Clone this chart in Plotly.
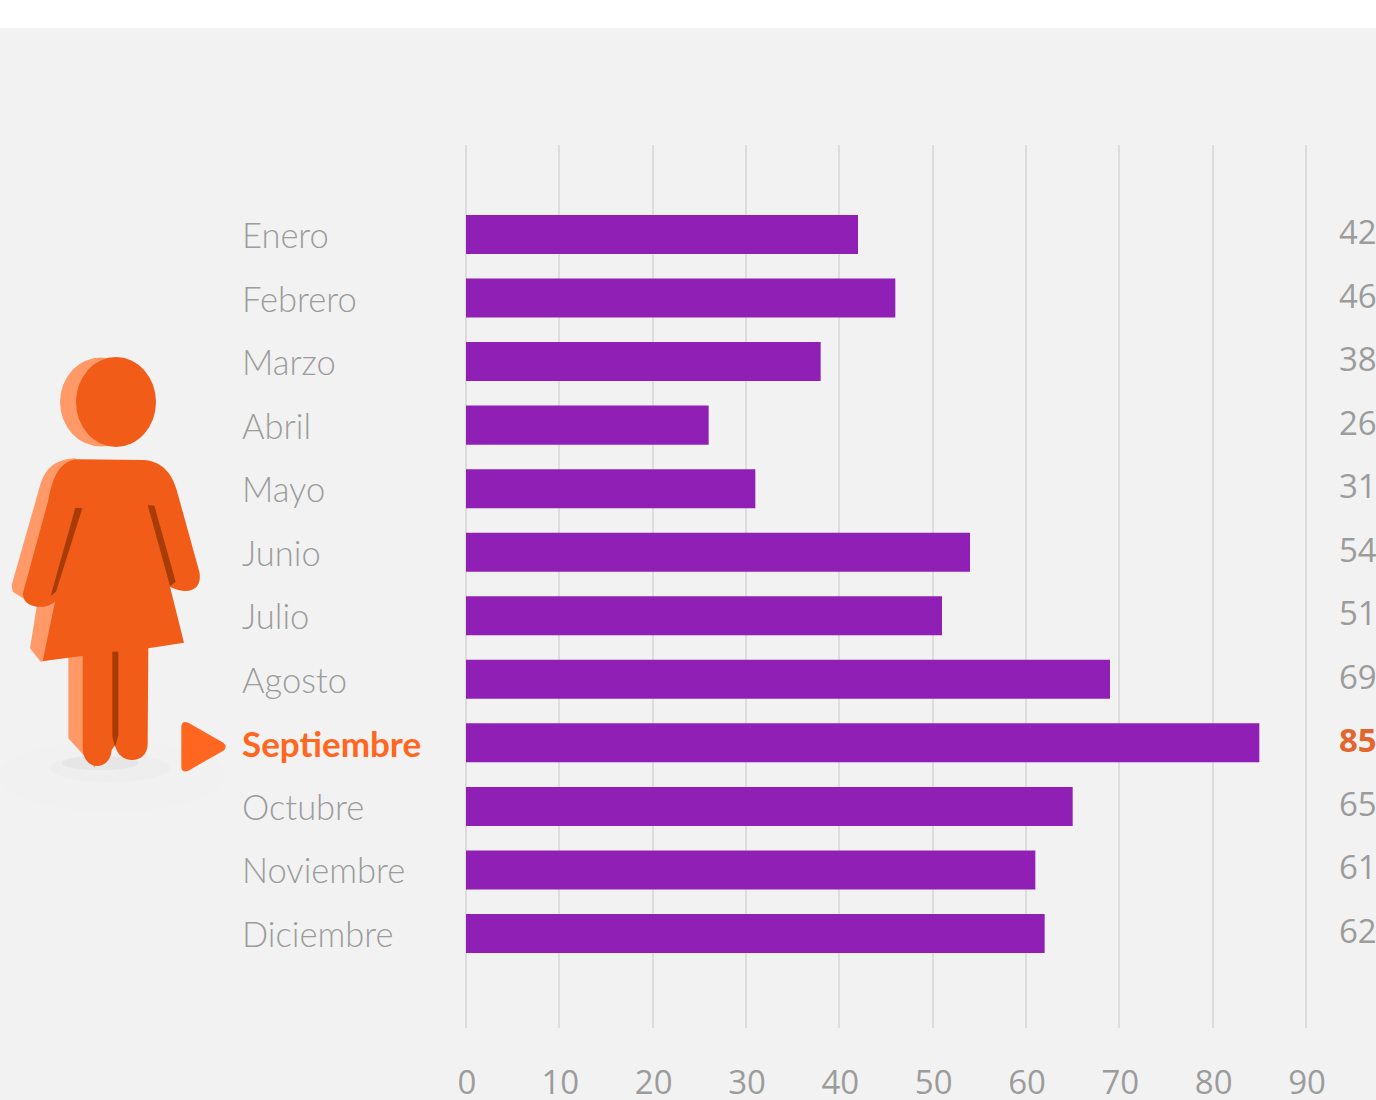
import plotly.graph_objects as go

months = ["Enero", "Febrero", "Marzo", "Abril", "Mayo", "Junio", "Julio", "Agosto",
          "Septiembre", "Octubre", "Noviembre", "Diciembre"]
values = [42, 46, 38, 26, 31, 54, 51, 69, 85, 65, 61, 62]
x_ticks = [0, 10, 20, 30, 40, 50, 60, 70, 80, 90]
highlight = "Septiembre"

W, H = 1376, 1100
L, R, T, B = 463, 1309, 145, 1028
GREY = "#9c9c9c"
ORANGE = "#ff6720"
BODY = "#f25c19"
SIDE = "#ff9a68"
DARK = "#a83c08"


def px(x, y):
    return (x - L) / (R - L), (B - y) / (B - T)


def zpath(segments):
    """Icon outline given in 3x-zoom image pixels of the decoration."""
    out = []
    for seg in segments:
        cmd, pts = seg[0], seg[1:]
        if cmd == "Z":
            out.append("Z")
            continue
        coords = []
        for zx, zy in pts:
            a, b = px(zx / 3, zy / 3 + 340)
            coords.append(f"{a:.5f},{b:.5f}")
        out.append(cmd + " ".join(coords))
    return " ".join(out)


def path_shape(segments, color):
    return dict(type="path", xref="paper", yref="paper", path=zpath(segments),
                fillcolor=color, line=dict(width=0), layer="below")


def ellipse(cx, cy, rx, ry, color):
    x0, y0 = px(cx - rx, cy + ry)
    x1, y1 = px(cx + rx, cy - ry)
    return dict(type="circle", xref="paper", yref="paper", x0=x0, y0=y0, x1=x1, y1=y1,
                fillcolor=color, line=dict(width=0), layer="below")


top0, top1 = px(-5, 28), px(W + 5, -5)
shapes = [
    dict(type="rect", xref="paper", yref="paper", x0=top0[0], y0=top0[1], x1=top1[0], y1=top1[1],
         fillcolor="#ffffff", line=dict(width=0), layer="below"),
    # soft floor shadow
    ellipse(112, 776, 112, 36, "#f1f1f1"),
    ellipse(110, 768, 60, 14, "#eeeeee"),
    ellipse(100, 763, 38, 7, "#e6e6e6"),
    # head
    ellipse(101, 402, 41, 44.5, SIDE),
    ellipse(116, 402, 40, 45, BODY),
    # extruded side of the body
    path_shape([
        ("M", (225, 355)), ("C", (170, 358), (140, 380), (122, 430)),
        ("L", (35, 735)), ("L", (38, 755)), ("L", (110, 800)), ("L", (90, 925)), ("L", (122, 965)),
        ("L", (205, 950)), ("L", (205, 1195)), ("L", (285, 1283)), ("L", (320, 1000)), ("L", (300, 400)), ("Z",),
    ], SIDE),
    # front of the body
    path_shape([
        ("M", (235, 358)), ("L", (430, 360)), ("C", (480, 362), (515, 395), (530, 450)),
        ("L", (598, 695)), ("C", (608, 745), (570, 770), (510, 740)),
        ("L", (552, 908)), ("L", (445, 925)), ("L", (443, 1215)),
        ("C", (440, 1275), (355, 1275), (345, 1215)),
        ("L", (335, 1230)), ("C", (330, 1295), (250, 1295), (248, 1225)),
        ("L", (248, 948)), ("L", (128, 963)), ("L", (165, 785)),
        ("C", (130, 815), (60, 800), (70, 755)),
        ("L", (145, 480)), ("C", (160, 400), (185, 360), (235, 358)), ("Z",),
    ], BODY),
    # slits between arms, body and legs
    path_shape([("M", (226, 503)), ("L", (247, 505)), ("L", (168, 755)), ("L", (152, 768)), ("Z",)], DARK),
    path_shape([("M", (443, 495)), ("L", (463, 497)), ("L", (527, 725)), ("L", (510, 738)), ("Z",)], DARK),
    path_shape([("M", (337, 935)), ("L", (355, 935)), ("L", (355, 1185)), ("L", (345, 1222)), ("L", (337, 1190)), ("Z",)], DARK),
    # pointer
    path_shape([
        ("M", (544, 1160)), ("Q", (545, 1140), (565, 1148)), ("L", (670, 1208)),
        ("Q", (684, 1220), (670, 1232)), ("L", (565, 1292)), ("Q", (545, 1300), (544, 1280)), ("Z",),
    ], ORANGE),
]

fig = go.Figure(go.Bar(x=values, y=months, orientation="h", marker=dict(color="#8f1fb5", line=dict(width=0)),
                       hoverinfo="x+y"))

label_x = px(240, 0)[0]
value_x = px(1379, 0)[0]
annotations = []
for m, v in zip(months, values):
    hi = m == highlight
    annotations.append(dict(
        xref="paper", yref="y", x=label_x, y=m, text=f"<b>{m}</b>" if hi else m, showarrow=False,
        xanchor="left", yanchor="middle", yshift=0,
        font=dict(family="Lato", size=35 if hi else 34.5, color=ORANGE if hi else GREY, weight=400 if hi else 300)))
    annotations.append(dict(
        xref="paper", yref="y", x=value_x, y=m, text=f"<b>{v}</b>" if hi else str(v), showarrow=False,
        xanchor="right", yanchor="middle", yshift=3,
        font=dict(family="Open Sans", size=33, color="#e2672e" if hi else GREY)))

# 3 px of spare room each side, so the first and last grid lines are not dropped at the plot edge
pad = 3 * 90 / 840
fig.update_layout(
    width=W, height=H, autosize=False, showlegend=False,
    paper_bgcolor="#f2f2f2", plot_bgcolor="rgba(0,0,0,0)",
    margin=dict(l=L, r=W - R, t=T, b=H - B, pad=0),
    bargap=0.386, shapes=shapes, annotations=annotations,
    xaxis=dict(range=[-pad, 90 + pad], tickvals=x_ticks, showgrid=True, gridcolor="#dddddd", gridwidth=2,
               zeroline=False, showline=False, ticks="",
               ticklabelstandoff=32, ticklabelshift=1, automargin=False,
               tickfont=dict(family="Open Sans", size=33, color=GREY)),
    yaxis=dict(categoryorder="array", categoryarray=months, range=[12.487, -1.408], automargin=False,
               showgrid=False, zeroline=False, showline=False, showticklabels=False, ticks=""),
)
fig.write_html("out.html", config=dict(displayModeBar=False),
               post_script="document.body.style.margin='0';")
